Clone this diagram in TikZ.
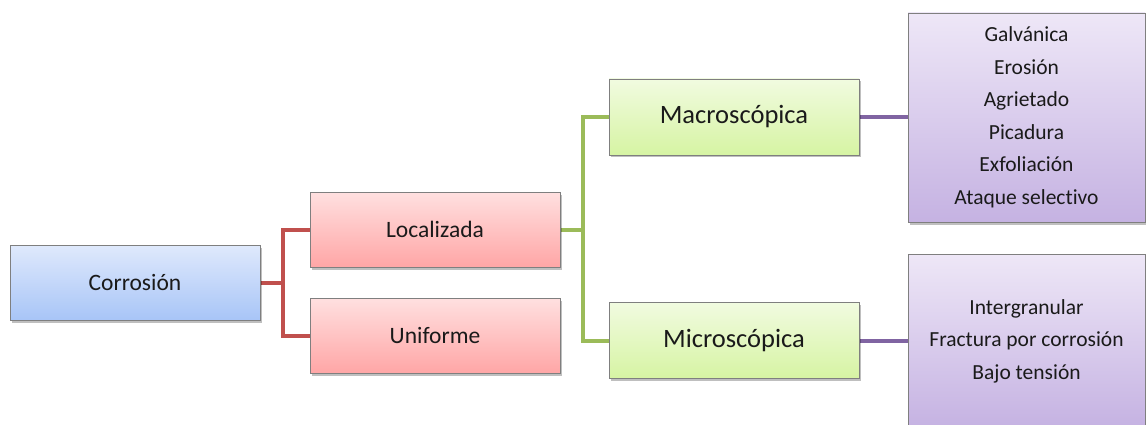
\documentclass[tikz,border=0pt]{standalone}
\usepackage{fontspec}
\setmainfont{Carlito}[Ligatures={NoCommon}]
\usetikzlibrary{shadows,backgrounds}
\definecolor{blueTop}{HTML}{DFE9FC}
\definecolor{blueBot}{HTML}{A8C5F7}
\definecolor{redTop}{HTML}{FFE0E0}
\definecolor{redBot}{HTML}{FFA6A6}
\definecolor{greenTop}{HTML}{F1FBE0}
\definecolor{greenBot}{HTML}{D6F4A3}
\definecolor{purpTop}{HTML}{EEE7F7}
\definecolor{purpBot}{HTML}{C5B2E2}
\definecolor{redLine}{HTML}{C0504D}
\definecolor{greenLine}{HTML}{9BBB59}
\definecolor{purpLine}{HTML}{8064A2}
\definecolor{edge}{HTML}{7F7F7F}
\definecolor{ink}{HTML}{1A1A1A}
\tikzset{
  box/.style={draw=edge, line width=0.8pt, inner sep=0pt, text=ink, align=center,
    drop shadow={shadow xshift=1.5pt, shadow yshift=-2.5pt, opacity=0.25, fill=black}},
  stagebox/.style={box, minimum width=250pt, minimum height=75pt},
  rootbox/.style={stagebox, top color=blueTop, bottom color=blueBot, font=\fontsize{23.5}{28}\selectfont},
  kindbox/.style={stagebox, top color=redTop, bottom color=redBot, font=\fontsize{23.5}{28}\selectfont},
  scalebox/.style={stagebox, minimum height=76pt, top color=greenTop, bottom color=greenBot, font=\fontsize{26.5}{30}\selectfont},
  listbox/.style={box, minimum width=237pt, top color=purpTop, bottom color=purpBot, font=\fontsize{21.5}{32.5}\selectfont},
  link/.style={line width=4pt}
}
\begin{document}
\begin{tikzpicture}[x=1pt,y=-1pt]
\useasboundingbox (0,0) rectangle (1146,425);
\clip (0,0) rectangle (1146,425);

\node[rootbox]  (corr)  at (135,282.5) {Corrosión};
\node[kindbox]  (loc)   at (435,229.5) {Localizada};
\node[kindbox]  (uni)   at (435,335.5) {Uniforme};
\node[scalebox] (macro) at (734,117)   {Macroscópica};
\node[scalebox] (micro) at (734,340.5) {Microscópica};
\node[listbox, minimum height=209pt] (macl) at (1026.5,117.5)
  {Galvánica\\Erosión\\Agrietado\\Picadura\\Exfoliación\\Ataque selectivo};
\node[listbox, minimum height=174pt] (micl) at (1026.5,341)
  {Intergranular\\Fractura por corrosión\\Bajo tensión};

\begin{scope}[on background layer]
  \draw[link, redLine] (corr.east) -- ++(23,0) |- (loc.west);
  \draw[link, redLine] (corr.east) -- ++(23,0) |- (uni.west);
  \draw[link, greenLine] (loc.east) -- ++(23,0) |- (macro.west);
  \draw[link, greenLine] (loc.east) -- ++(23,0) |- (micro.west);
  \draw[link, purpLine] (macro.east) -- (macro.east -| macl.west);
  \draw[link, purpLine] (micro.east) -- (micro.east -| micl.west);
\end{scope}
\end{tikzpicture}
\end{document}
